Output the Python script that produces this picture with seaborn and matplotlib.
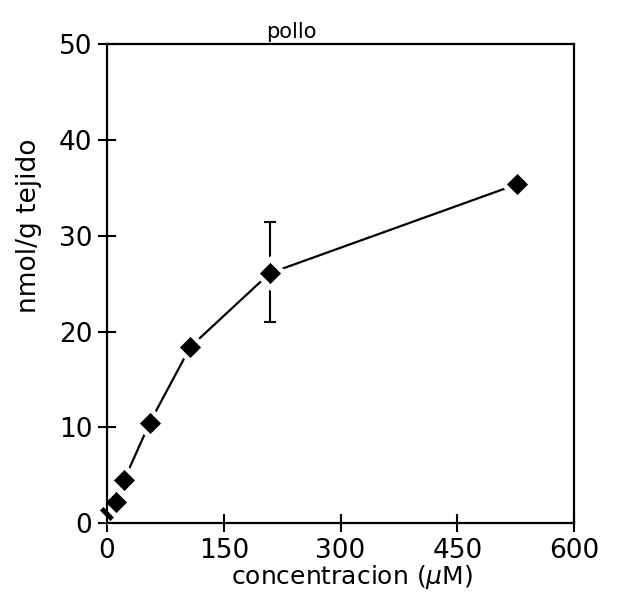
import matplotlib
matplotlib.use("Agg")
import matplotlib.pyplot as plt
import seaborn as sns
import pandas as pd

conc = [4, 12, 22, 55, 107, 209, 527]
nmol = [1.4, 2.2, 4.5, 10.5, 18.4, 26.1, 35.4]
err_x = [209]
err_y = [26.1]
err_lo = [5.1]
err_hi = [5.3]
xticks = [0, 150, 300, 450, 600]
yticks = [0, 10, 20, 30, 40, 50]

sns.set_style("ticks")
plt.rcParams['font.family'] = ['DejaVu Sans']

fig = plt.figure(figsize=(6.29, 5.98), dpi=100)
ax = fig.add_axes([0.170, 0.125, 0.743, 0.801])

df = pd.DataFrame({"conc": conc, "nmol": nmol})
ax.errorbar(err_x, err_y, yerr=[err_lo, err_hi], fmt="none", ecolor="black",
            elinewidth=1.5, capsize=4, capthick=1.5, zorder=2)
sns.lineplot(data=df, x="conc", y="nmol", ax=ax, color="black", lw=1.6,
             marker="D", markersize=14, markerfacecolor="black",
             markeredgecolor="white", markeredgewidth=3.5, zorder=2.2,
             clip_on=False)

ax.set_xlim(0, 600)
ax.set_ylim(0, 50)
ax.set_xticks(xticks)
ax.set_yticks(yticks)
ax.tick_params(direction="inout", length=13, width=1.5, labelsize=19,
               colors="black", labelcolor="black", pad=4)
for s in ax.spines.values():
    s.set_linewidth(1.6)
    s.set_color("black")
ax.set_xlabel("concentracion ($\\mu$M)", fontsize=18, color="black")
ax.set_ylabel("nmol/g tejido", fontsize=19, color="black")
ax.xaxis.set_label_coords(0.525, -0.082)
ax.yaxis.set_label_coords(-0.140, 0.622)
ax.text(0.394, 1.004, "pollo", transform=ax.transAxes, ha="center",
        va="bottom", fontsize=15, color="black")
fig.savefig("out.png", dpi=100)
